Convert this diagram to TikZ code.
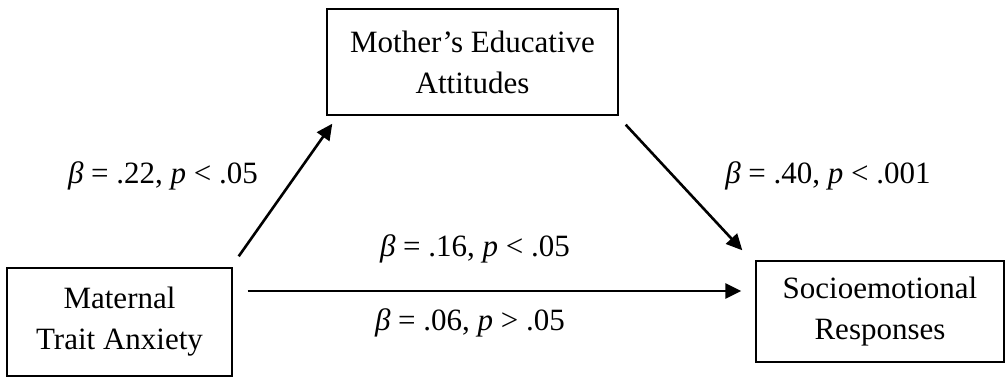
\documentclass[tikz,border=0pt]{standalone}
\usepackage{fontspec}
\setmainfont{Liberation Serif}
\usetikzlibrary{arrows.meta,calc}
\begin{document}
\begin{tikzpicture}[x=1pt,y=-1pt,
  box/.style={draw, line width=1.4pt, align=center, inner sep=0pt,
    font=\fontsize{31}{41}\selectfont},
  lbl/.style={inner sep=0pt, anchor=base, font=\fontsize{31}{41}\selectfont},
  arr/.style={line width=2.6pt, -{Triangle[length=16pt,width=15pt]}}]
\useasboundingbox (0,0) rectangle (1006,378);
\node[box, minimum width=291pt, minimum height=106pt] (edu) at (472.5,62) {Mother’s Educative\\Attitudes};
\node[box, minimum width=225pt, minimum height=108pt] (anx) at (119.5,322) {Maternal\\Trait Anxiety};
\node[box, minimum width=248pt, minimum height=101pt] (soc) at (880,311.5) {Socioemotional\\Responses};
\draw[arr] ($(anx.north east)+(6,-11)$) -- ($(edu.south west)+(6,8)$);
\draw[arr] ($(edu.south east)+(7,9)$) -- ($(soc.north west)+(-13,-10)$);
\draw[arr] ($(anx.east)+(15,-31)$) -- ($(soc.west)+(-14,-20.5)$);
\node[lbl] (l1) at (163,183) {\textit{β} = .22, \textit{p} < .05};
\node[lbl] (l2) at (828,183) {\textit{β} = .40, \textit{p} < .001};
\node[lbl] (l3) at (475,256) {\textit{β} = .16, \textit{p} < .05};
\node[lbl] (l4) at (470,330) {\textit{β} = .06, \textit{p} > .05};
\end{tikzpicture}
\end{document}
